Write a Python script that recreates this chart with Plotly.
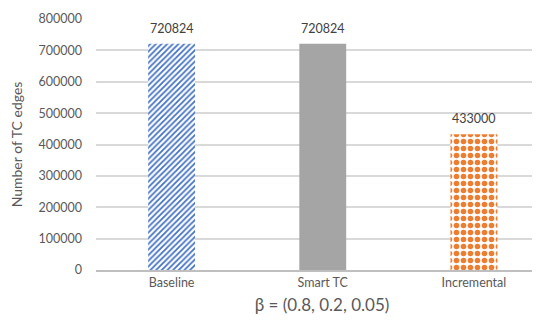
import plotly.graph_objects as go

categories = ["Baseline", "Smart TC", "Incremental"]
edges = [720824, 720824, 433000]
labels = ["720824", "720824", "433000"]

# one trace per bar so each gets its own fill pattern
styles = [
    dict(color="white", pattern=dict(shape="/", fgcolor="#4472c4", bgcolor="white",
                                     size=4, solidity=0.45, fillmode="replace")),
    dict(color="#a5a5a5"),
    dict(color="white", pattern=dict(shape=".", fgcolor="#ed7d31", bgcolor="white",
                                     size=7, solidity=0.5, fillmode="replace")),
]

fig = go.Figure()
for i in range(len(categories)):
    fig.add_trace(go.Bar(
        x=[categories[i]], y=[edges[i]],
        marker=dict(line=dict(width=0), **styles[i]),
    ))
    fig.add_annotation(x=categories[i], y=edges[i], text=labels[i], showarrow=False,
                       yanchor="bottom", yshift=6,
                       font=dict(size=12.5, color="#404040"))

# page body has an 8px margin, so the layout is nudged up/left to compensate
fig.update_layout(
    width=540, height=331,
    margin=dict(l=88, r=0, t=11, b=69, autoexpand=False),
    paper_bgcolor="white", plot_bgcolor="white",
    font=dict(family="Lato, Open Sans, sans-serif", color="#595959"),
    barmode="overlay",
    bargap=0.69,
    showlegend=False,
    xaxis=dict(
        range=[-0.5, 2.49], showgrid=False, ticks="", automargin=False,
        tickfont=dict(size=12.5),
        title=dict(text="β = (0.8, 0.2, 0.05)", font=dict(size=17), standoff=10),
        showline=True, linecolor="#bfbfbf", linewidth=1.5,
    ),
    yaxis=dict(
        range=[0, 800000], dtick=100000, tickformat="d",
        gridcolor="#d9d9d9", gridwidth=1.5,
        zeroline=False, automargin=False,
        tickfont=dict(size=12.5), ticklabelstandoff=13,
        title=dict(text="Number of TC edges", font=dict(size=14), standoff=12),
    ),
)

fig.write_html("out.html")
